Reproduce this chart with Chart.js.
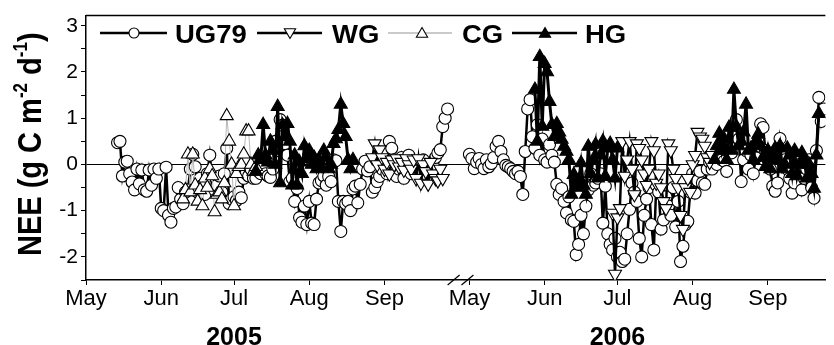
<!DOCTYPE html>
<html>
<head>
<meta charset="utf-8">
<script src="https://cdn.jsdelivr.net/npm/chart.js@4/dist/chart.umd.min.js"></script>
<style>
html,body{margin:0;padding:0;background:#fff;}
#wrap{position:relative;width:834px;height:345px;}
canvas{display:block;}
</style>
</head>
<body>
<div id="wrap"><canvas id="c" width="834" height="345"></canvas></div>
<script>
// ---------------- data ----------------
// x values are day indices: 0 = 1 May 2005; 2006 segment starts at offset2006 (= 1 May 2006)
const offset2006 = 158;
const monthTickDays = [0, 31, 61, 92, 123, 158, 189, 219, 250, 281];
const monthTickLabels = ['May', 'Jun', 'Jul', 'Aug', 'Sep', 'May', 'Jun', 'Jul', 'Aug', 'Sep'];
const yearLabels = ['2005', '2006'];
const yearLabelDays = [61, 219];
const yMajorTicks = [-2, -1, 0, 1, 2, 3];
const yMinorTicks = [-2.5, -1.5, -0.5, 0.5, 1.5, 2.5];
const seriesNames = ['UG79', 'WG', 'CG', 'HG'];
const yTitleParts = [['NEE (g C m', 0], ['-2', 1], [' d', 0], ['-1', 1], [')', 0]];
const breakDays = [151.5, 157.2];

// UG79 (daily NEE, g C m-2 d-1)
const ug79_2005_start = 13;
const ug79_2005 = [0.47, 0.5, -0.25, 0.05, 0.07, -0.2, -0.38, -0.55, -0.1, -0.42, -0.12, -0.55, -0.58, -0.12, -0.45, -0.1, -0.3, -0.1,
  -0.95, -1.0, -0.06, -1.1, -1.25, -0.95, -0.92, -0.5, -0.75, -0.85, -0.6, -0.55, -0.1, 0.22, -0.05, -0.6, -0.3, -0.45, -0.65, -0.2,
  0.2, -0.3, -0.55, -0.45, -0.25, -0.6, -0.2, 0.35, -0.85, -0.75, -0.7, -0.78, -0.6, -0.72, -0.3, -0.2, -0.25, -0.1, -0.3, -0.3,
  -0.15, -0.2, -0.05, -0.2, -0.25, -0.28, -0.1, 0.5, 0.3, 0.97, 0.85, 0.45, 0.2, -0.37, -0.3, -0.8, -0.52, -1.15, -1.25, -0.9,
  -1.3, -0.8, -1.27, -1.3, -0.75, -0.4, -0.35, -0.25, -0.45, -0.26, -0.37, 0.1, 0.08, -0.8, -1.45, -0.8, -0.85, -0.8, -1.0, -0.53,
  -0.47, -0.83, -0.43, -0.1, 0.07, -0.14, -0.05, -0.6, -0.5, -0.37, -0.26, -0.1, 0.05, -0.2, 0.5, 0.35, 0.1, -0.26, -0.1, 0.15,
  -0.3, -0.05, 0.2, -0.2, -0.1, 0.0, -0.25, -0.1, 0.1, -0.2, -0.3, -0.1, 0.0, 0.15, 0.25, 0.32, 0.82, 1.0, 1.2];
const ug79_2006_start = offset2006 + 0;
const ug79_2006 = [0.22, 0.13, -0.09, 0.05, 0.13, 0.0, -0.09, 0.1, -0.05, 0.02, 0.15, 0.39, 0.5, 0.28, 0.1, -0.02, -0.05, -0.09,
  -0.15, -0.2, -0.15, -0.26, -0.65, 0.28, 1.2, 1.4, 0.6, 0.35, 0.86, 0.2, 0.55, 0.1, 0.05, 0.43, 0.2, 0.05, -0.43, -0.65, -0.52,
  -0.8, -1.05, -0.7, -1.2, -1.23, -1.95, -1.73, -1.1, -1.5, -0.9, -0.55, -0.2, -0.45, -0.4, -0.3, -0.2, -1.27, -0.47, -1.5, -1.73,
  -1.85, -1.6, -2.0, -1.9, -2.1, -2.05, -1.5, -0.97, -0.4, -0.6, -0.8, -1.6, -2.0, -1.1, -0.75, -0.5, -1.3, -1.85, -0.45, -0.6,
  -1.4, -1.2, -0.7, -0.9, -1.1, -0.5, -1.35, -0.8, -2.1, -1.77, -1.3, -1.23, -0.6, -0.2, -0.62, -0.35, -0.15, -0.4, -0.43, -0.1,
  0.05, -0.1, 0.1, 0.0, 0.2, 0.1, 0.07, -0.15, 0.4, 0.25, 0.6, 0.97, 0.55, -0.37, 0.1, 0.3, -0.1, 0.2, -0.2, 0.15, 0.4, 0.88, 0.8,
  0.3, 0.1, -0.1, -0.47, -0.58, -0.4, 0.56, 0.3, 0.1, -0.1, -0.3, -0.62, -0.4, 0.2, 0.0, -0.55, -0.3, -0.1, 0.1, -0.5, -0.73, 0.3,
  1.45, 0.93, 1.2];

// WG
const wg_2005_start = 118;
const wg_2005 = [0.15, 0.45, 0.0, 0.32, 0.15, -0.1, 0.05, -0.2, 0.1, 0.0, 0.13, -0.05, 0.05, -0.12, 0.13, 0.0, -0.1, 0.1, -0.3,
  0.13, -0.4, 0.0, -0.15, -0.42, 0.05, -0.2, -0.3, -0.35, -0.1, -0.3];
const wg_2006_start = offset2006 + 59;
const wg_2006 = [-1.05, -2.37, -1.15, -0.95, 0.5, -0.25, 0.1, 0.5, -0.1, -0.65, 0.45, 0.35, 0.1, -0.2, -0.45, -0.1, 0.5, 0.3,
  -0.4, -0.2, -0.5, -0.8, -0.95, 0.45, 0.3, -0.1, -0.3, -0.5, -1.1, -1.4, -0.5, -0.3, -0.6, 0.0, 0.2, 0.7, 0.6, 0.55, 0.4, 0.15,
  0.05, 0.2];

// CG
const cg_2005_start = 40;
const cg_2005 = [-0.75, -0.55, 0.22, -0.6, 0.22, -0.45, -0.8, -0.55, -0.9, -0.3, -0.5, -0.1, -0.25, -1.03, -0.65, -0.6, -0.75,
  -0.4, 1.05, 0.5, 0.0, -0.9, -0.2, -0.05, 0.0, 0.22, 0.72, 0.72, 0.0, -0.15, -0.05];

// HG
const hg_2005_start = 70;
const hg_2005 = [-0.15, 0.2, 0.1, 0.86, 0.2, 0.05, 0.5, 0.3, 0.0, 1.25, -0.4, 0.85, 0.6, 0.88, 0.5, -0.45, 0.2, -0.45, 0.05,
  -0.2, 0.4, 0.12, 0.3, 0.0, 0.15, -0.1, 0.1, -0.05, 0.3, 0.15, -0.1, 0.0, 0.45, 0.55, 0.75, 1.3, 0.88, 0.6, 0.1, -0.1, 0.1];
const hg_2006a_start = offset2006 + 27;
const hg_2006a = [1.62, 0.5, 2.33, 0.82, 2.18, 2.0, 1.36, 0.86, 0.6, 0.88, 0.7, 0.54, 0.39, 0.28, 0.1, -0.65, -0.22, -0.5, -0.35,
  0.03, -0.45, -0.65, 0.39, -0.2, 0.1, 0.43, -0.3, 0.2, 0.5, -0.26, 0.35, 0.45, 0.1, -0.3, 0.35];
const hg_2006b_start = offset2006 + 101;
const hg_2006b = [0.1, 0.4, 0.67, 0.3, 0.55, 0.1, 0.8, 0.3, 1.62, 0.82, 0.4, 0.5, 0.7, 1.3, 0.3, 0.35, 0.1, 0.5, 0.65, 0.4, 0.15,
  -0.05, 0.3, -0.1, 0.2, 0.35, 0.1, 0.4, -0.1, 0.0, 0.35, 0.2, -0.2, 0.3, -0.25, 0.0, 0.25, 0.1, -0.3, 0.0, -0.2, -0.52, 0.2, 1.1];

// ---------------- build ----------------
function buildPoints(segments) {
  const pts = [];
  segments.forEach((seg, k) => {
    if (k > 0) {
      const prev = segments[k - 1];
      pts.push({ x: (prev[0] + prev[1].length - 1 + seg[0]) / 2, y: null });
    }
    seg[1].forEach((v, i) => pts.push({ x: seg[0] + i, y: v }));
  });
  return pts;
}

const FONT = '"Liberation Sans", Arial, Helvetica, sans-serif';
const xMax = 304.7;

const datasets = [
  { label: seriesNames[0], data: buildPoints([[ug79_2005_start, ug79_2005], [ug79_2006_start, ug79_2006]]),
    borderColor: '#000', borderWidth: 2.5, pointStyle: 'circle', pointRadius: 6, pointBorderWidth: 1.1,
    pointBackgroundColor: '#fff', pointBorderColor: '#000', order: 3 },
  { label: seriesNames[1], data: buildPoints([[wg_2005_start, wg_2005], [wg_2006_start, wg_2006]]),
    borderColor: '#000', borderWidth: 2.5, pointStyle: 'triangle', pointRotation: 180, pointRadius: 7.5, pointBorderWidth: 1.1,
    pointBackgroundColor: '#fff', pointBorderColor: '#000', order: 1 },
  { label: seriesNames[2], data: buildPoints([[cg_2005_start, cg_2005]]),
    borderColor: '#b8b8b8', borderWidth: 1, pointStyle: 'triangle', pointRadius: 7.5, pointBorderWidth: 1.1,
    pointBackgroundColor: '#fff', pointBorderColor: '#000', order: 2 },
  { label: seriesNames[3], data: buildPoints([[hg_2005_start, hg_2005], [hg_2006a_start, hg_2006a], [hg_2006b_start, hg_2006b]]),
    borderColor: '#000', borderWidth: 3, pointStyle: 'triangle', pointRadius: 7.5, pointBorderWidth: 1.1,
    pointBackgroundColor: '#000', pointBorderColor: '#000', order: 0 }
];

// ---------------- plugins ----------------
function drawMarker(c, style, x, y, r) {
  c.save();
  c.lineWidth = 1.1;
  c.strokeStyle = '#000';
  c.fillStyle = style.fill;
  c.beginPath();
  if (style.shape === 'circle') {
    c.arc(x, y, r, 0, Math.PI * 2);
  } else {
    const rot = style.down ? Math.PI : 0;
    for (let i = 0; i < 3; i++) {
      const a = rot - Math.PI / 2 + i * 2 * Math.PI / 3;
      const px = x + Math.cos(a) * r, py = y + Math.sin(a) * r;
      if (i === 0) c.moveTo(px, py); else c.lineTo(px, py);
    }
    c.closePath();
  }
  c.fill();
  c.stroke();
  c.restore();
}

const customPlugin = {
  id: 'custom',
  afterDraw(chart) {
    const c = chart.ctx;
    const area = chart.chartArea;
    const xs = chart.scales.x;
    c.save();
    // top frame line
    c.strokeStyle = '#000';
    c.lineWidth = 1.5;
    c.beginPath();
    c.moveTo(area.left, area.top);
    c.lineTo(area.right, area.top);
    c.stroke();
    // axis break marks
    c.lineWidth = 1.2;
    breakDays.forEach(d => {
      const px = xs.getPixelForValue(d);
      c.beginPath();
      c.moveTo(px - 6, area.bottom + 5);
      c.lineTo(px + 6, area.bottom - 5);
      c.stroke();
    });
    // y-axis title
    c.save();
    c.translate(41, 256);
    c.rotate(-Math.PI / 2);
    c.scale(1, 1.15);
    c.fillStyle = '#000';
    c.textAlign = 'left';
    c.textBaseline = 'alphabetic';
    const F = 29;
    let tx = 0;
    yTitleParts.forEach(([t, sup]) => {
      c.font = 'bold ' + (sup ? Math.round(F * 0.6) : F) + 'px ' + FONT;
      c.fillText(t, tx, sup ? -F * 0.42 : 0);
      tx += c.measureText(t).width;
    });
    c.restore();
    // legend
    const items = [
      { l0: 100, l1: 167, m: 134, t: 175, color: '#000', lw: 2.5, style: { shape: 'circle', fill: '#fff' }, r: 5 },
      { l0: 257, l1: 322, m: 290, t: 332, color: '#000', lw: 2.5, style: { shape: 'tri', down: true, fill: '#fff' }, r: 6.5 },
      { l0: 388, l1: 452, m: 422, t: 462, color: '#b8b8b8', lw: 1.5, style: { shape: 'tri', fill: '#fff' }, r: 6.5 },
      { l0: 512, l1: 577, m: 545, t: 585, color: '#000', lw: 2.5, style: { shape: 'tri', fill: '#000' }, r: 6.5 }
    ];
    const ly = 33;
    items.forEach((it, i) => {
      c.strokeStyle = it.color;
      c.lineWidth = it.lw;
      c.beginPath();
      c.moveTo(it.l0, ly);
      c.lineTo(it.l1, ly);
      c.stroke();
      drawMarker(c, it.style, it.m, ly + (it.style.shape === 'tri' ? (it.style.down ? -1 : 1) : 0), it.r);
      c.save();
      c.translate(it.t, 43);
      c.scale(1.1, 1);
      c.fillStyle = '#000';
      c.font = 'bold 25px ' + FONT;
      c.textAlign = 'left';
      c.textBaseline = 'alphabetic';
      c.fillText(seriesNames[i], 0, 0);
      c.restore();
    });
    c.restore();
  }
};

new Chart(document.getElementById('c'), {
  type: 'line',
  data: { datasets },
  options: {
    responsive: false,
    animation: false,
    events: [],
    layout: { padding: { top: 14, right: 0, left: 0, bottom: 0 } },
    plugins: { legend: { display: false }, tooltip: { enabled: false } },
    elements: { line: { tension: 0 } },
    spanGaps: false,
    scales: {
      x: {
        type: 'linear', position: 'bottom', min: 0, max: xMax, weight: 0,
        afterBuildTicks: s => { s.ticks = monthTickDays.map(v => ({ value: v })); },
        afterFit: s => { s.height = 36; },
        ticks: { autoSkip: false, maxRotation: 0, minRotation: 0, padding: 1, color: '#000',
          font: { family: FONT, size: 22 }, callback: (v, i) => monthTickLabels[i] },
        grid: { drawOnChartArea: false, tickLength: 5, color: '#000', lineWidth: 1 },
        border: { color: '#000', width: 1.5 }
      },
      x2: {
        type: 'linear', position: 'bottom', min: 0, max: xMax, weight: 1,
        afterBuildTicks: s => { s.ticks = yearLabelDays.map(v => ({ value: v })); },
        afterFit: s => { s.height = 29; },
        ticks: { autoSkip: false, maxRotation: 0, minRotation: 0, padding: -1, color: '#000',
          font: { family: FONT, size: 25, weight: 'bold' }, callback: (v, i) => yearLabels[i] },
        grid: { display: false },
        border: { display: false }
      },
      y: {
        type: 'linear', min: -2.5, max: 3.22,
        afterBuildTicks: s => { s.ticks = yMinorTicks.concat(yMajorTicks).sort((a, b) => a - b).map(v => ({ value: v })); },
        afterFit: s => { s.width = 86; },
        ticks: { autoSkip: false, padding: 3, color: '#000', font: { family: FONT, size: 21 },
          callback: v => (yMajorTicks.includes(v) ? String(v) : '') },
        grid: {
          drawOnChartArea: true, tickLength: 5, lineWidth: 1, tickColor: '#000',
          color: ctx => (ctx.tick && ctx.tick.value === 0 ? '#000' : 'rgba(0,0,0,0)')
        },
        border: { color: '#000', width: 1.5 }
      }
    }
  },
  plugins: [customPlugin]
});
</script>
</body>
</html>
